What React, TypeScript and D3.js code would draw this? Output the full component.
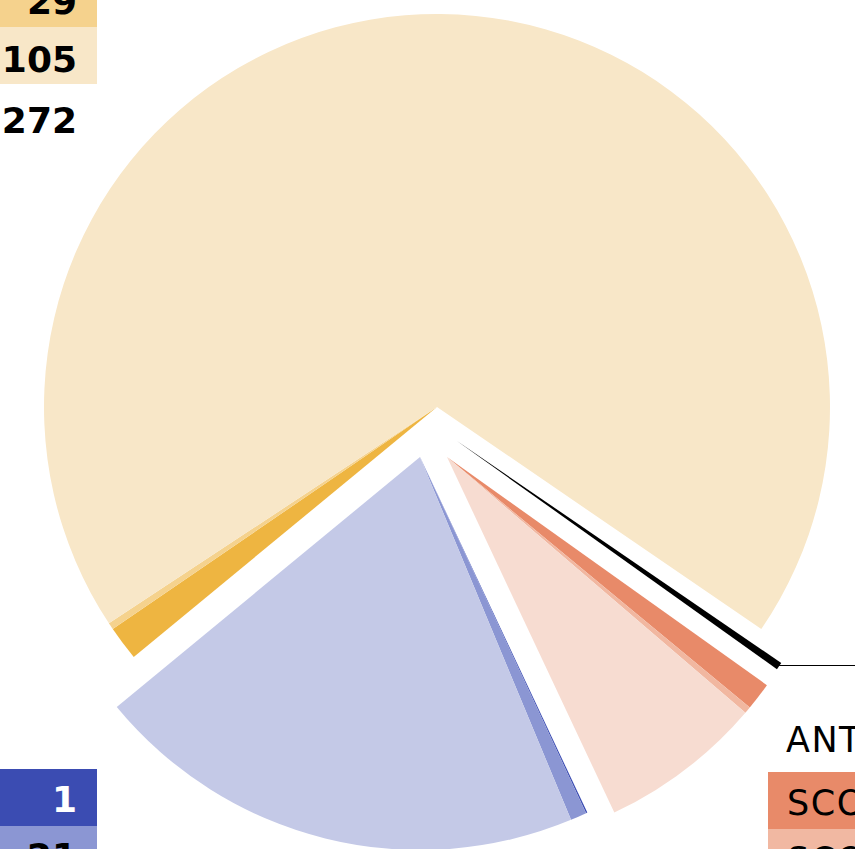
import React from "react";
import * as d3 from "d3";

// ---- data (values are slice sizes) ----
const sliceGroups = ["GRP", "GRP", "GRP", "ANT", "SCO", "SCO", "SCO", "BLU", "BLU", "BLU"];
const sliceValues = [51, 10, 2478, 11, 41, 10, 242, 2, 24, 731];
const sliceColors = [
  "#eeb541", "#f5d28d", "#f8e7c8",
  "#000000",
  "#e88a69", "#f1b7a0", "#f7dcd1",
  "#3b4cb2", "#8b96d3", "#c4c9e7",
];

const leftTopValues = ["29", "105", "272"];
const leftTopColors = ["#f5d28d", "#f8e7c8", "none"];
const leftBottomValues = ["1", "21"];
const leftBottomColors = ["#3b4cb2", "#8b96d3"];
const leftBottomText = ["#ffffff", "#000000"];
const rightHeader = "ANT";
const rightRows = ["SCO", "SCO"];
const rightRowColors = ["#e88a69", "#f1b8a2"];

// ---- layout ----
const W = 855, H = 849;
const CX = 437, CY = 407, R = 393;
const START_DEG = 230.5;
const groupShift: Record<string, [number, number]> = {
  GRP: [0, 0],
  ANT: [20, 34],
  SCO: [10, 50],
  BLU: [-17, 50],
};
const ROW_H = 57;
const TOP_BASELINES = [14, 72, 133];
const FONT = "'DejaVu Sans', sans-serif";

export default function App() {
  const rad = (d: number) => (d * Math.PI) / 180;
  const idx = d3.range(sliceValues.length);
  const pie = d3
    .pie<number>()
    .sort(null)
    .value((i) => sliceValues[i])
    .startAngle(rad(START_DEG))
    .endAngle(rad(START_DEG + 360));
  const arcs = pie(idx);
  const arc = d3.arc<d3.PieArcDatum<number>>().innerRadius(0).outerRadius(R);

  // leader line from the ANT slice
  const antArc = arcs.find((a) => sliceGroups[a.data] === "ANT")!;
  const antMid = (antArc.startAngle + antArc.endAngle) / 2;
  const antShift = groupShift.ANT;
  const lx = CX + antShift[0] + R * Math.sin(antMid);
  const ly = Math.round(CY + antShift[1] - R * Math.cos(antMid)) - 0.5;

  const topY = d3.scaleLinear().domain([0, 1]).range([-30, -30 + ROW_H]);
  const botY = d3.scaleLinear().domain([0, 1]).range([769, 769 + ROW_H]);
  const rightY = d3.scaleLinear().domain([0, 1]).range([772, 772 + ROW_H]);

  return (
    <svg
      width={W}
      height={H}
      style={{ position: "absolute", left: 0, top: 0, background: "#fff" }}
    >
      <g>
        {arcs.map((a, i) => {
          const s = groupShift[sliceGroups[a.data]];
          return (
            <path
              key={i}
              d={arc(a) || ""}
              fill={sliceColors[a.data]}
              transform={`translate(${CX + s[0]},${CY + s[1]})`}
            />
          );
        })}
      </g>
      <line x1={lx} y1={ly} x2={W + 10} y2={ly} stroke="#000" strokeWidth={1} />

      {/* left top table */}
      {leftTopValues.map((v, i) => (
        <g key={"lt" + i}>
          {leftTopColors[i] !== "none" && (
            <rect x={-100} y={topY(i)} width={197} height={ROW_H} fill={leftTopColors[i]} />
          )}
          <text
            x={77}
            y={TOP_BASELINES[i]}
            textAnchor="end"
            fontFamily={FONT}
            fontWeight="bold"
            fontSize={36}
            fill="#000"
          >
            {v}
          </text>
        </g>
      ))}

      {/* left bottom table */}
      {leftBottomValues.map((v, i) => (
        <g key={"lb" + i}>
          <rect x={-100} y={botY(i)} width={197} height={ROW_H} fill={leftBottomColors[i]} />
          <text
            x={77}
            y={botY(i) + 43}
            textAnchor="end"
            fontFamily={FONT}
            fontWeight="bold"
            fontSize={36}
            fill={leftBottomText[i]}
          >
            {v}
          </text>
        </g>
      ))}

      {/* right table */}
      <text x={786} y={752} fontFamily={FONT} fontSize={35} letterSpacing={1.5} fill="#000">
        {rightHeader}
      </text>
      {rightRows.map((v, i) => (
        <g key={"r" + i}>
          <rect x={768} y={rightY(i)} width={200} height={ROW_H} fill={rightRowColors[i]} />
          <text
            x={787}
            y={rightY(i) + 43}
            fontFamily={FONT}
            fontSize={35}
            letterSpacing={1.5}
            fill="#000"
          >
            {v}
          </text>
        </g>
      ))}
    </svg>
  );
}
